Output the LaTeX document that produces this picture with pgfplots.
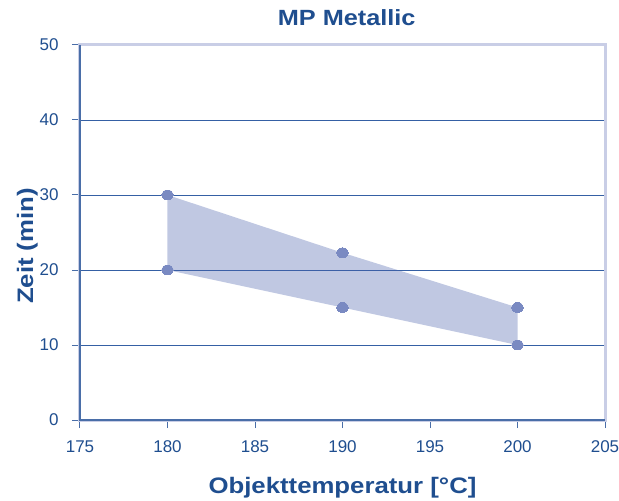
\documentclass[border=0pt]{standalone}
\usepackage{fontspec}
\setmainfont{Liberation Sans}
\newfontfamily\lblfont{Liberation Sans}[FakeStretch=1.15]
\usepackage{pgfplots}
\pgfplotsset{compat=1.18}
\definecolor{txtblue}{HTML}{1F4E8F}
\definecolor{axblue}{HTML}{4A6EA8}
\definecolor{gridblue}{HTML}{3560A4}
\definecolor{frame}{HTML}{C9CEE6}
\definecolor{band}{HTML}{4B62AC}
\definecolor{dot}{HTML}{7A8AC2}
\begin{document}
\begin{tikzpicture}
\begin{axis}[
  scale only axis, width=525pt, height=375pt,
  xmin=175, xmax=205, ymin=0, ymax=50,
  xtick={175,180,...,205}, ytick={0,10,...,50},
  axis line style={draw=frame, line width=3pt},
  ymajorgrids, grid style={gridblue, line width=0.9pt},
  tick align=outside, major tick length=8pt,
  tick style={axblue, line width=1pt},
  xtick pos=left, ytick pos=left,
  /pgf/number format/assume math mode=true,
  ticklabel style={font=\fontsize{17}{17}\selectfont, text=txtblue},
  xticklabel style={yshift=-9pt},
  yticklabel style={xshift=-10pt},
  title={MP Metallic},
  title style={font=\lblfont\bfseries\fontsize{22}{22}\selectfont, text=txtblue,
    at={(axis description cs:0.508,1.035)}, anchor=base},
  xlabel={Objekttemperatur [°C]},
  xlabel style={font=\lblfont\bfseries\fontsize{22.4}{22.4}\selectfont, text=txtblue,
    at={(axis description cs:0.5,-0.1947)}, anchor=base},
  ylabel={Zeit (min)},
  ylabel style={font=\lblfont\bfseries\fontsize{22.4}{22.4}\selectfont, text=txtblue,
    at={(axis description cs:-0.0895,0.464)}, anchor=base, rotate=0},
]
\addplot[fill=band, fill opacity=0.35, draw=none] coordinates {
  (180,30) (190,22.3) (200,15) (200,10) (190,15) (180,20)
} -- cycle;
\addplot[dot, only marks, mark=*, mark size=6pt,
  mark options={fill=dot, draw=dot, line width=0pt, yscale=0.82}] coordinates {
  (180,30) (180,20) (190,22.3) (190,15) (200,15) (200,10)
};
\coordinate (SW) at (rel axis cs:0,0);
\coordinate (NW) at (rel axis cs:0,1);
\coordinate (SE) at (rel axis cs:1,0);
\end{axis}
\draw[axblue, line width=1.3pt] (NW) -- (SW) -- (SE);
\pgfresetboundingbox
\path[use as bounding box] (SW) ++(-80pt,-81pt) rectangle ++(619pt,501pt);
\end{tikzpicture}
\end{document}
